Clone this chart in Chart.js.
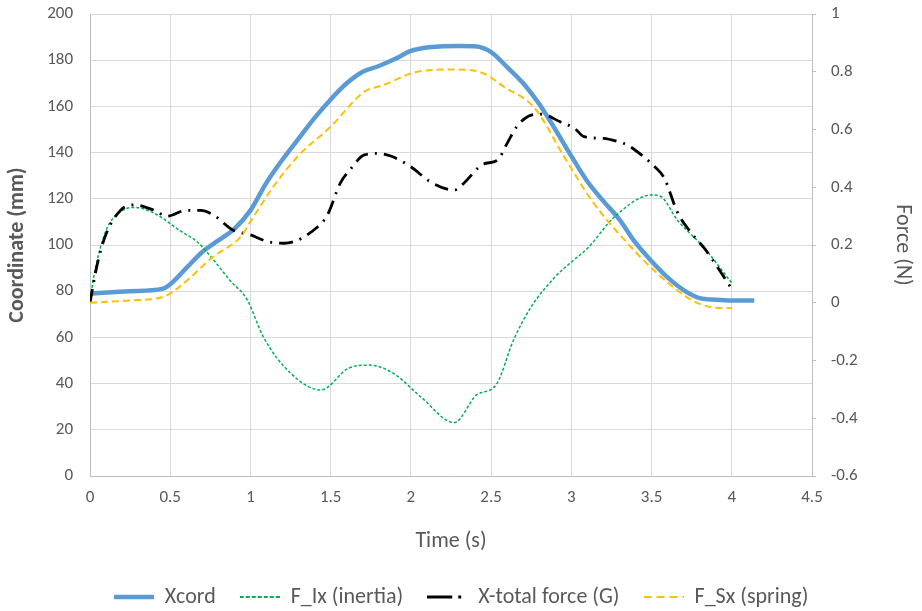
<!DOCTYPE html>
<html>
<head>
<meta charset="utf-8">
<script src="https://cdn.jsdelivr.net/npm/chart.js@4/dist/chart.umd.min.js"></script>
<style>
  html, body { margin: 0; padding: 0; background: #fff; }
  #wrap { width: 922px; height: 611px; position: relative; }
</style>
</head>
<body>
<div id="wrap"><canvas id="chart"></canvas></div>
<script>
// =====================================================
// DATA
// =====================================================
const xcordTime = [0, 0.25, 0.45, 0.5, 0.6, 0.7, 0.8, 0.9, 1.0, 1.1, 1.2, 1.3, 1.4, 1.5, 1.6, 1.7, 1.8, 1.9, 2.0, 2.1, 2.2, 2.3, 2.4, 2.5, 2.6, 2.7, 2.8, 2.9, 3.0, 3.1, 3.2, 3.3, 3.4, 3.5, 3.6, 3.7, 3.8, 3.9, 4.0, 4.14];
const xcordMm = [79, 80, 81, 83, 90, 97, 102, 107, 115, 127, 137, 146, 155, 163, 170, 175, 177.5, 180.5, 184, 185.5, 186, 186.2, 186, 183.5, 177, 170, 161, 150, 138.5, 127.5, 119, 111, 101, 93, 86, 80.5, 77, 76.3, 76, 76];

const inertiaTime = [0, 0.02, 0.1, 0.19, 0.28, 0.4, 0.56, 0.67, 0.77, 0.87, 0.98, 1.08, 1.25, 1.44, 1.61, 1.74, 1.89, 2.06, 2.27, 2.41, 2.53, 2.64, 2.75, 2.9, 3.0, 3.1, 3.27, 3.5, 3.56, 3.66, 3.83, 4.0];
const inertiaN = [0, 0.08, 0.25, 0.315, 0.33, 0.31, 0.25, 0.21, 0.148, 0.079, 0.01, -0.118, -0.244, -0.302, -0.227, -0.216, -0.244, -0.325, -0.415, -0.319, -0.285, -0.129, -0.014, 0.09, 0.141, 0.188, 0.298, 0.373, 0.367, 0.287, 0.189, 0.068];

const totalTime = [0, 0.04, 0.094, 0.19, 0.28, 0.4, 0.48, 0.6, 0.69, 0.77, 0.89, 1.0, 1.1, 1.21, 1.42, 1.48, 1.56, 1.62, 1.71, 1.79, 1.87, 2.0, 2.12, 2.27, 2.33, 2.45, 2.54, 2.6, 2.66, 2.75, 2.81, 2.93, 3.02, 3.08, 3.2, 3.29, 3.35, 3.45, 3.52, 3.58, 3.66, 3.75, 3.83, 4.0];
const totalN = [0, 0.12, 0.229, 0.32, 0.339, 0.32, 0.3, 0.32, 0.32, 0.304, 0.252, 0.235, 0.213, 0.206, 0.263, 0.304, 0.414, 0.46, 0.512, 0.517, 0.509, 0.471, 0.419, 0.39, 0.414, 0.48, 0.494, 0.552, 0.61, 0.65, 0.653, 0.627, 0.604, 0.575, 0.569, 0.558, 0.546, 0.506, 0.471, 0.431, 0.315, 0.24, 0.188, 0.048];

const springTime = [0, 0.25, 0.46, 0.56, 0.77, 0.94, 1.0, 1.14, 1.3, 1.5, 1.71, 1.83, 2.04, 2.29, 2.45, 2.58, 2.77, 2.955, 3.14, 3.37, 3.5, 3.7, 3.8, 3.9, 4.0];
const springN = [0, 0.008, 0.021, 0.056, 0.16, 0.229, 0.281, 0.4, 0.51, 0.61, 0.731, 0.754, 0.8, 0.808, 0.795, 0.748, 0.675, 0.506, 0.344, 0.194, 0.12, 0.027, -0.004, -0.017, -0.018];

const timeTicks = [0, 0.5, 1, 1.5, 2, 2.5, 3, 3.5, 4, 4.5];
const coordTicks = [0, 20, 40, 60, 80, 100, 120, 140, 160, 180, 200];
const forceTicks = [-0.6, -0.4, -0.2, 0, 0.2, 0.4, 0.6, 0.8, 1];

function pts(xs, ys) { return xs.map((x, i) => ({ x: x, y: ys[i] })); }

// little canvas used as the legend sample, so the dash pattern shows
function swatch(color, width, dash) {
    const c = document.createElement('canvas');
    c.width = 40; c.height = 8;
    const g = c.getContext('2d');
    g.strokeStyle = color; g.lineWidth = width; g.setLineDash(dash);
    g.beginPath(); g.moveTo(0, 4); g.lineTo(40, 4); g.stroke();
    return c;
}

// y axes: fixed width, and no extra top/bottom padding from tick labels
function fixY(width) {
    return s => { s.width = width; s.paddingTop = 0; s.paddingBottom = 0; };
}

// =====================================================
// CHART
// =====================================================
const FONT = 'Carlito, Calibri, "Open Sans", sans-serif';
const TICK_COLOR = '#595959';
const GRID = '#d9d9d9';
const AXIS = '#bfbfbf';

new Chart(document.getElementById('chart'), {
    type: 'line',
    data: {
        datasets: [
            { label: 'Xcord', data: pts(xcordTime, xcordMm), yAxisID: 'yL', borderColor: '#5b9bd5', backgroundColor: '#5b9bd5', borderWidth: 4.5, pointRadius: 0, pointStyle: swatch('#5b9bd5', 4.5, []), cubicInterpolationMode: 'monotone', order: 4 },
            { label: 'F_Ix (inertia)', data: pts(inertiaTime, inertiaN), yAxisID: 'yR', borderColor: '#00b050', backgroundColor: '#00b050', borderWidth: 1.5, borderDash: [3, 2], pointRadius: 0, pointStyle: swatch('#00b050', 2, [4, 2]), cubicInterpolationMode: 'monotone', order: 3 },
            { label: 'X-total force (G)', data: pts(totalTime, totalN), yAxisID: 'yR', borderColor: '#000000', backgroundColor: '#000000', borderWidth: 2.8, borderDash: [14, 7, 2, 7], pointRadius: 0, pointStyle: swatch('#000000', 3, [25, 6, 3, 20]), cubicInterpolationMode: 'monotone', order: 2 },
            { label: 'F_Sx (spring)', data: pts(springTime, springN), yAxisID: 'yR', borderColor: '#ffc000', backgroundColor: '#ffc000', borderWidth: 2, borderDash: [7, 4], pointRadius: 0, pointStyle: swatch('#ffc000', 2, [8, 5]), cubicInterpolationMode: 'monotone', order: 1 }
        ]
    },
    options: {
        responsive: true,
        maintainAspectRatio: false,
        animation: false,
        layout: { padding: { top: 14, left: 0, right: 0, bottom: -7 } },
        plugins: {
            tooltip: { enabled: false },
            legend: {
                position: 'bottom',
                reverse: true,
                labels: {
                    usePointStyle: true, pointStyleWidth: 40, boxWidth: 40,
                    padding: 24, color: TICK_COLOR, font: { family: FONT, size: 22 }
                }
            }
        },
        scales: {
            x: {
                type: 'linear', min: 0, max: 4.5,
                afterBuildTicks: s => { s.ticks = timeTicks.map(v => ({ value: v })); },
                afterFit: s => { s.height = 86; },
                grid: { color: GRID, drawTicks: false },
                border: { color: AXIS },
                ticks: { color: TICK_COLOR, padding: 12, font: { family: FONT, size: 17 }, callback: v => String(v) },
                title: { display: true, text: 'Time (s)', color: TICK_COLOR, font: { family: FONT, size: 22 }, padding: { top: 0, bottom: 7 } }
            },
            yL: {
                position: 'left', min: 0, max: 200,
                afterBuildTicks: s => { s.ticks = coordTicks.map(v => ({ value: v })); },
                afterFit: fixY(90),
                grid: { color: GRID, drawTicks: false },
                border: { color: AXIS },
                ticks: { color: TICK_COLOR, padding: 17, font: { family: FONT, size: 17 } },
                title: { display: true, text: 'Coordinate (mm)', color: TICK_COLOR, font: { family: FONT, size: 22, weight: 'bold' }, padding: { top: 4, bottom: 0 } }
            },
            yR: {
                position: 'right', min: -0.6, max: 1,
                afterBuildTicks: s => { s.ticks = forceTicks.map(v => ({ value: v })); },
                afterFit: fixY(110),
                grid: { display: true, drawOnChartArea: false, drawTicks: true, tickLength: 4, color: AXIS },
                border: { color: AXIS },
                ticks: { color: TICK_COLOR, padding: 15, font: { family: FONT, size: 17 }, callback: v => String(Math.round(v * 10) / 10) },
                title: { display: true, text: 'Force (N)', color: TICK_COLOR, font: { family: FONT, size: 22 }, padding: { top: 6, bottom: 0 } }
            }
        }
    }
});
</script>
</body>
</html>
